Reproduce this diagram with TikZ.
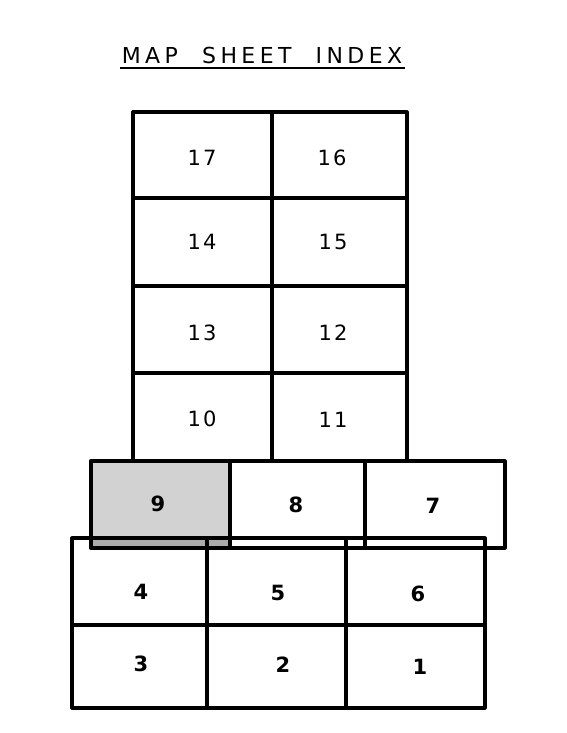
\documentclass[tikz,border=0pt]{standalone}
\usepackage{fontspec}
\setmainfont{DejaVu Sans}
\newfontfamily\titlefont[LetterSpace=20]{DejaVu Sans}
\newfontfamily\numfont[LetterSpace=10]{DejaVu Sans}
\usetikzlibrary{calc}

\begin{document}
\begin{tikzpicture}[x=0.5pt,y=-0.5pt,
  frame/.style={line width=1.6pt,line join=round},
  sheetnum/.style={font=\numfont\fontsize{10.5}{12}\selectfont,inner sep=0pt},
  sheetbold/.style={font=\numfont\bfseries\fontsize{10.5}{12}\selectfont,inner sep=0pt}]
\useasboundingbox (0,0) rectangle (567,733);

% The corners of the three blocks.
\coordinate (TopNW) at (133,112); \coordinate (TopSE) at (407,461);
\coordinate (BotNW) at (72,538);  \coordinate (BotSE) at (485,708);

% Sheet 9 is shaded, its overlap with the lower block darker.
\fill[gray!35] (91,461) rectangle (230,548);
\fill[gray!65] (91,538) rectangle (230,548);

\draw[frame] (BotNW) rectangle (BotSE);
\draw[frame] (207,538) -- (207,708) (346,538) -- (346,708) (72,625) -- (485,625);

\draw[frame] (230,461) rectangle (365,548);
\draw[frame] (365,461) rectangle (505,548);
\draw[line width=2.2pt,line join=round] (91,461) rectangle (230,548);

\draw[frame] (TopNW) rectangle (TopSE);
\draw[frame] (272,112) -- (272,461);
\foreach \y in {198,286,373}
  \draw[frame] (133,\y) -- (407,\y);

% The sheet numbers.
\node[sheetnum] (n17) at (202,158) {17};
\node[sheetnum] (n16) at (332,158) {16};
\node[sheetnum] (n14) at (202,242) {14};
\node[sheetnum] (n15) at (333,242) {15};
\node[sheetnum] (n13) at (202,333) {13};
\node[sheetnum] (n12) at (333,333) {12};
\node[sheetnum] (n10) at (202,419) {10};
\node[sheetnum] (n11) at (333,420) {11};
\node[sheetbold] (n9) at (158,504) {9};
\node[sheetbold] (n8) at (296,505) {8};
\node[sheetbold] (n7) at (433,506) {7};
\node[sheetbold] (n4) at (141,592) {4};
\node[sheetbold] (n5) at (278,593) {5};
\node[sheetbold] (n6) at (418,594) {6};
\node[sheetbold] (n3) at (141,664) {3};
\node[sheetbold] (n2) at (283,665) {2};
\node[sheetbold] (n1) at (420,667) {1};

\node[font=\titlefont\fontsize{11}{13}\selectfont,inner sep=0pt] (title) at (262,55)
  {MAP\hspace{1.1em}SHEET\hspace{1.1em}INDEX};
\draw[line width=0.9pt] (120,68) -- (405,68); % underline
\end{tikzpicture}
\end{document}
